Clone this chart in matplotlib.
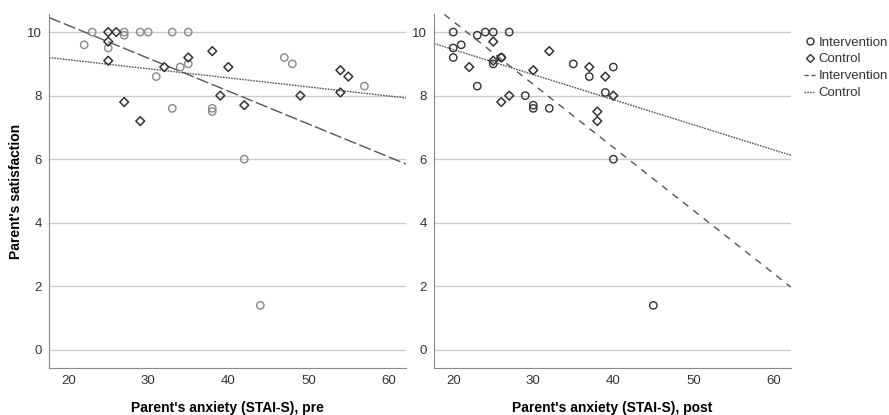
import numpy as np
import matplotlib
matplotlib.use("Agg")
import matplotlib.pyplot as plt
from matplotlib.lines import Line2D

plt.rcParams['font.family'] = ['Liberation Sans', 'DejaVu Sans']

# pre: intervention (circles) and control (diamonds)
pre_int_x = [22, 23, 25, 27, 27, 29, 30, 33, 35, 31, 34, 35, 33, 38, 38, 42, 47, 48, 57, 44]
pre_int_y = [9.6, 10, 9.5, 10, 9.9, 10, 10, 10, 10, 8.6, 8.9, 9.0, 7.6, 7.6, 7.5, 6.0, 9.2, 9.0, 8.3, 1.4]
pre_ctl_x = [25, 26, 25, 25, 27, 29, 32, 35, 38, 39, 40, 42, 49, 54, 54, 55]
pre_ctl_y = [10, 10, 9.7, 9.1, 7.8, 7.2, 8.9, 9.2, 9.4, 8.0, 8.9, 7.7, 8.0, 8.8, 8.1, 8.6]

# post
post_int_x = [20, 20, 20, 21, 23, 23, 24, 25, 27, 25, 26, 29, 30, 30, 32, 35, 37, 39, 40, 40, 45]
post_int_y = [10, 9.5, 9.2, 9.6, 9.9, 8.3, 10, 10, 10, 9.0, 9.2, 8.0, 7.7, 7.6, 7.6, 9.0, 8.6, 8.1, 8.9, 6.0, 1.4]
post_ctl_x = [25, 22, 26, 27, 30, 32, 37, 38, 38, 39, 40, 25, 26]
post_ctl_y = [9.7, 8.9, 7.8, 8.0, 8.8, 9.4, 8.9, 7.5, 7.2, 8.6, 8.0, 9.1, 9.2]

# fit lines (intercept, slope)
pre_fit_int = [12.28, -0.1034]
pre_fit_ctl = [9.70, -0.0285]
post_fit_int = [14.30, -0.1982]
post_fit_ctl = [11.03, -0.0789]

xlim = (17.6, 62.2)
ylim = (-0.57, 10.57)

fig = plt.figure(figsize=(8.89, 4.15), dpi=100)
ax1 = fig.add_axes([0.0551, 0.1133, 0.4016, 0.853])
ax2 = fig.add_axes([0.4882, 0.1133, 0.4016, 0.853])

xs = np.array(xlim)

def draw(ax, ix, iy, cx, cy, fi, fc, circ_col, int_dash, xlabel):
    ax.set_xlim(*xlim)
    ax.set_ylim(*ylim)
    ax.set_yticks([0, 2, 4, 6, 8, 10])
    ax.set_xticks([20, 30, 40, 50, 60])
    ax.grid(axis='y', color='#cccccc', linewidth=1)
    ax.set_axisbelow(True)
    for s in ['top', 'right']:
        ax.spines[s].set_visible(False)
    for s in ['left', 'bottom']:
        ax.spines[s].set_color('#888888')
    ax.tick_params(length=0, labelsize=9.5, colors='#333333', pad=5)
    ax.scatter(ix, iy, marker='o', s=28, facecolors='none', edgecolors=circ_col, linewidths=1.0, zorder=3)
    ax.scatter(cx, cy, marker='D', s=20, facecolors='none', edgecolors='#333333', linewidths=1.1, zorder=3)
    ax.plot(xs, fi[0] + fi[1] * xs, color='#555555', linewidth=1, dashes=int_dash)
    ax.plot(xs, fc[0] + fc[1] * xs, color='#555555', linewidth=1, dashes=(1.2, 0.8))
    ax.set_xlabel(xlabel, fontweight='bold', fontsize=10, labelpad=10)

draw(ax1, pre_int_x, pre_int_y, pre_ctl_x, pre_ctl_y, pre_fit_int, pre_fit_ctl,
     '#888888', (9, 2.5), "Parent's anxiety (STAI-S), pre")
draw(ax2, post_int_x, post_int_y, post_ctl_x, post_ctl_y, post_fit_int, post_fit_ctl,
     '#333333', (5, 4.5), "Parent's anxiety (STAI-S), post")
ax1.set_ylabel("Parent's satisfaction", fontweight='bold', fontsize=10, labelpad=3)

handles = [
    Line2D([], [], marker='o', linestyle='none', markerfacecolor='none', markeredgecolor='#333333', markersize=5),
    Line2D([], [], marker='D', linestyle='none', markerfacecolor='none', markeredgecolor='#333333', markersize=4),
    Line2D([], [], color='#555555', linewidth=1, dashes=(3, 2)),
    Line2D([], [], color='#555555', linewidth=1, dashes=(1.2, 0.8)),
]
fig.legend(handles, ['Intervention', 'Control', 'Intervention', 'Control'],
           loc='upper left', bbox_to_anchor=(0.898, 0.925), frameon=False,
           fontsize=9.5, handlelength=0.9, handletextpad=0.25, labelspacing=0.35,
           labelcolor='#333333', borderaxespad=0)

fig.savefig('out.png', dpi=100)
